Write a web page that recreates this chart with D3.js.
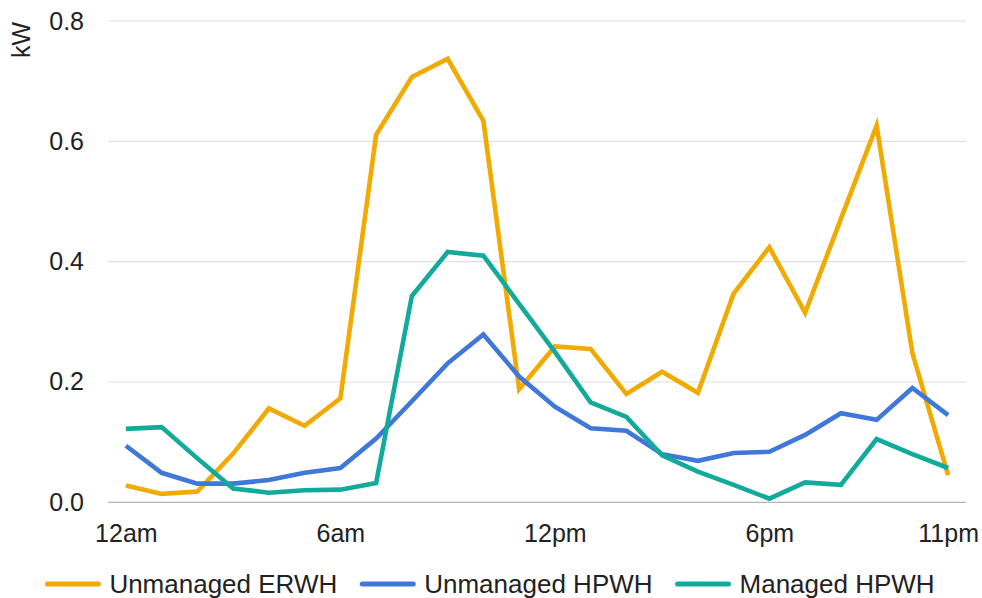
<!DOCTYPE html>
<html>
<head>
<meta charset="utf-8">
<script src="https://cdn.jsdelivr.net/npm/d3@7"></script>
<style>
  html, body { margin: 0; padding: 0; background: #fff; }
  svg { display: block; font-family: "Liberation Sans", Arial, sans-serif; }
</style>
</head>
<body>
<svg id="chart" width="982" height="598"></svg>
<script>
// Hourly average demand (kW), 12am .. 11pm
const hours = d3.range(24);
const hourLabels = ["12am", "1am", "2am", "3am", "4am", "5am", "6am", "7am", "8am", "9am", "10am", "11am",
                    "12pm", "1pm", "2pm", "3pm", "4pm", "5pm", "6pm", "7pm", "8pm", "9pm", "10pm", "11pm"];
const shownHours = [0, 6, 12, 18, 23];
const yTicks = [0, 0.2, 0.4, 0.6, 0.8];

const seriesNames = ["Unmanaged ERWH", "Unmanaged HPWH", "Managed HPWH"];
const seriesColors = ["#f1aa00", "#3f78d8", "#12aa9a"];

const unmanagedErwh = [0.028, 0.014, 0.018, 0.081, 0.156, 0.127, 0.173, 0.611, 0.707, 0.737, 0.634, 0.188,
                       0.259, 0.255, 0.180, 0.217, 0.182, 0.347, 0.424, 0.315, 0.471, 0.626, 0.248, 0.045];
const unmanagedHpwh = [0.094, 0.049, 0.031, 0.031, 0.037, 0.049, 0.057, 0.106, 0.168, 0.231, 0.279, 0.209,
                       0.159, 0.123, 0.119, 0.080, 0.069, 0.082, 0.084, 0.112, 0.148, 0.137, 0.190, 0.145];
const managedHpwh   = [0.122, 0.125, 0.073, 0.023, 0.016, 0.020, 0.021, 0.032, 0.343, 0.416, 0.410, 0.330,
                       0.250, 0.166, 0.142, 0.078, 0.051, 0.029, 0.006, 0.033, 0.029, 0.105, 0.080, 0.057];

const seriesValues = [unmanagedErwh, unmanagedHpwh, managedHpwh];

const svg = d3.select("#chart");
const plot = { left: 108, right: 966, top: 21, bottom: 502.3 };

const x = d3.scalePoint()
  .domain(hours)
  .range([plot.left, plot.right])
  .padding(0.5);

const y = d3.scaleLinear()
  .domain([0, 0.8])
  .range([plot.bottom, plot.top]);

// Gridlines
svg.append("g")
  .selectAll("line")
  .data(yTicks)
  .join("line")
  .attr("x1", plot.left)
  .attr("x2", plot.right)
  .attr("y1", d => y(d))
  .attr("y2", d => y(d))
  .attr("stroke", d => d === 0 ? "#b5b5b5" : "#e0e0e0")
  .attr("stroke-width", 1.2);

// Y axis labels
const yAxis = svg.append("g")
  .attr("transform", `translate(${plot.left},0)`)
  .call(d3.axisLeft(y).tickValues(yTicks).tickFormat(d3.format(".1f")).tickSize(0).tickPadding(24));
yAxis.select(".domain").remove();
yAxis.selectAll("text")
  .attr("font-size", 25)
  .attr("font-family", "Liberation Sans, Arial, sans-serif")
  .attr("fill", "#222");

// X axis labels
const xAxis = svg.append("g")
  .attr("transform", `translate(0,${plot.bottom})`)
  .call(d3.axisBottom(x).tickValues(shownHours).tickFormat(d => hourLabels[d]).tickSize(0));
xAxis.select(".domain").remove();
xAxis.selectAll("text")
  .attr("y", 39.4)
  .attr("dy", null)
  .attr("font-size", 25)
  .attr("font-family", "Liberation Sans, Arial, sans-serif")
  .attr("fill", "#222");

// Unit label
svg.append("text")
  .attr("transform", "translate(30,40) rotate(-90)")
  .attr("text-anchor", "middle")
  .attr("font-size", 25)
  .attr("fill", "#222")
  .text("kW");

// Lines
const line = d3.line()
  .x((d, i) => x(hours[i]))
  .y(d => y(d));

svg.append("g")
  .selectAll("path")
  .data(seriesValues)
  .join("path")
  .attr("d", line)
  .attr("fill", "none")
  .attr("stroke", (d, i) => seriesColors[i])
  .attr("stroke-width", 4.6)
  .attr("stroke-linejoin", "miter");

// Legend, centred under the plot
const legend = svg.append("g");
const SWATCH = 51, SWATCH_GAP = 11, ITEM_GAP = 25;
const items = legend.selectAll("g")
  .data(seriesNames)
  .join("g");

items.append("line")
  .attr("x1", 0)
  .attr("x2", SWATCH)
  .attr("y1", 584)
  .attr("y2", 584)
  .attr("stroke", (d, i) => seriesColors[i])
  .attr("stroke-width", 5)
  .attr("stroke-linecap", "round");

items.append("text")
  .attr("x", SWATCH + SWATCH_GAP)
  .attr("y", 593.3)
  .attr("font-size", 26)
  .attr("fill", "#222")
  .text(d => d);

let offset = 0;
const widths = [];
items.each(function () {
  const w = SWATCH + SWATCH_GAP + d3.select(this).select("text").node().getComputedTextLength();
  widths.push(w);
});
const total = d3.sum(widths) + ITEM_GAP * (widths.length - 1);
offset = 491 - total / 2;
items.attr("transform", (d, i) => {
  const t = `translate(${offset},0)`;
  offset += widths[i] + ITEM_GAP;
  return t;
});
</script>
</body>
</html>
